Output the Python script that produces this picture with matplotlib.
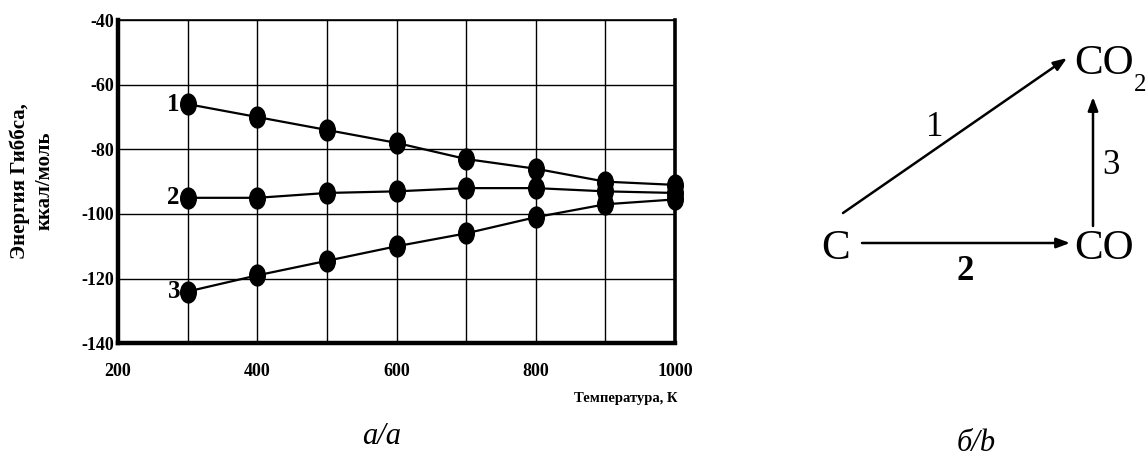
"""
Gibbs energy of C/CO/CO2 reactions vs. temperature (a) and reaction scheme (b).
"""

import matplotlib
matplotlib.use('Agg')
import matplotlib.pyplot as plt
from matplotlib.path import Path
from matplotlib.transforms import Affine2D


# ============================ Data ============================
TEMPS = [300, 400, 500, 600, 700, 800, 900, 1000]
G_REACTION_1 = [-66, -70, -74, -78, -83, -86, -90, -91]
G_REACTION_2 = [-95, -95, -93.5, -93, -92, -92, -93, -93.5]
G_REACTION_3 = [-124, -119, -114.5, -110, -106, -101, -97, -95.5]
CURVE_LABELS = ['1', '2', '3']

X_TICKS = [200, 400, 600, 800, 1000]
Y_TICKS = [-40, -60, -80, -100, -120, -140]

Y_LABEL = 'Энергия Гиббса,\nккал/моль'
X_LABEL = 'Температура, К'

FIG_SIZE = (11.46, 4.57)
DPI = 100
SERIF = ['Liberation Serif', 'DejaVu Serif']

# ellipse marker, a bit taller than wide
ELLIPSE = Path.unit_circle().transformed(Affine2D().scale(0.75, 1.0))


def main():
    plt.rcParams['font.family'] = SERIF
    plt.rcParams['axes.unicode_minus'] = False
    fig = plt.figure(figsize=FIG_SIZE, dpi=DPI)

    ax = fig.add_axes([0.103, 0.249, 0.486, 0.707])
    series = [G_REACTION_1, G_REACTION_2, G_REACTION_3]
    for vals, lab in zip(series, CURVE_LABELS):
        ax.plot(TEMPS, vals, color='black', linewidth=1.6,
                marker=ELLIPSE, markersize=15, zorder=3, clip_on=False)
        ax.text(TEMPS[0] - 11, vals[0], lab, ha='right', va='center',
                fontsize=18, fontweight='bold')

    ax.set_xlim(200, 1000)
    ax.set_ylim(-140, -40)
    ax.set_xticks(X_TICKS)
    ax.set_yticks(Y_TICKS)
    ax.set_xticks(range(300, 1000, 100), minor=True)
    ax.grid(True, which='both', color='black', linewidth=1.0)
    ax.tick_params(which='both', length=0)
    ax.tick_params(axis='x', pad=14, labelsize=13)
    ax.tick_params(axis='y', pad=3, labelsize=13)
    for lbl in ax.get_xticklabels() + ax.get_yticklabels():
        lbl.set_fontweight('bold')

    ax.spines['left'].set_linewidth(3.2)
    ax.spines['bottom'].set_linewidth(3.2)
    ax.spines['right'].set_linewidth(2.6)
    ax.spines['top'].set_linewidth(1.2)

    fig.text(0.028, 0.604, Y_LABEL, rotation=90, ha='center', va='center',
             fontsize=15, fontweight='bold', linespacing=1.3)
    fig.text(0.591, 0.128, X_LABEL, ha='right', va='center',
             fontsize=10.5, fontweight='bold')
    fig.text(0.333, 0.045, 'а/a', ha='center', va='center',
             fontsize=22, style='italic')
    fig.text(0.852, 0.03, 'б/b', ha='center', va='center',
             fontsize=22, style='italic')

    # reaction scheme, drawn in pixel coordinates of the figure
    sch = fig.add_axes([0, 0, 1, 1])
    sch.set_xlim(0, 1146)
    sch.set_ylim(457, 0)
    sch.axis('off')
    sch.patch.set_alpha(0)

    big = dict(fontsize=31, va='center')
    sch.text(836, 249, 'C', ha='center', **big)
    sch.text(1074, 249, 'CO', ha='left', **big)
    sch.text(1074, 64, 'CO', ha='left', **big)
    sch.text(1134, 85, '2', ha='left', va='center', fontsize=18)

    arrow = dict(arrowstyle='-|>,head_length=0.8,head_width=0.3',
                 color='black', lw=1.8, shrinkA=0, shrinkB=0)
    sch.annotate('', xy=(1067, 58), xytext=(843, 213), arrowprops=arrow)
    sch.annotate('', xy=(1070, 243), xytext=(862, 243), arrowprops=arrow)
    sch.annotate('', xy=(1093, 97), xytext=(1093, 226), arrowprops=arrow)

    sch.text(935, 128, '1', ha='center', va='center', fontsize=25)
    sch.text(965, 272, '2', ha='center', va='center', fontsize=25,
             fontweight='bold')
    sch.text(1111, 166, '3', ha='center', va='center', fontsize=25)

    fig.savefig('out.png', dpi=DPI)
    plt.close(fig)


if __name__ == "__main__":
    main()
